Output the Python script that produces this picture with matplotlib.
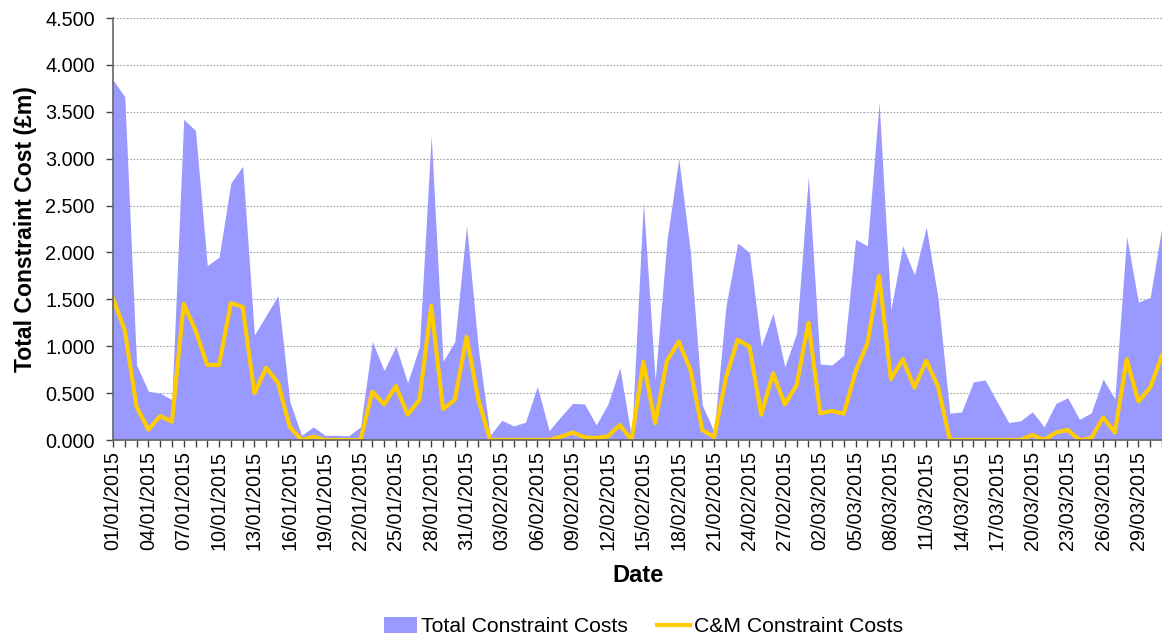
import matplotlib
matplotlib.use("Agg")
import matplotlib.pyplot as plt
from matplotlib.ticker import FormatStrFormatter
import pandas as pd

plt.rcParams["font.family"] = ["Liberation Sans", "DejaVu Sans"]

dates = pd.date_range("2015-01-01", "2015-03-31", freq="D")
date_labels = [d.strftime("%d/%m/%Y") for d in dates]

total_costs = [
    3.84, 3.66, 0.80, 0.52, 0.50, 0.43, 3.42, 3.30, 1.86, 1.95,
    2.74, 2.92, 1.12, 1.33, 1.54, 0.41, 0.05, 0.14, 0.05, 0.05,
    0.045, 0.14, 1.05, 0.74, 1.00, 0.61, 1.00, 3.25, 0.84, 1.05,
    2.29, 0.97, 0.05, 0.21, 0.15, 0.19, 0.57, 0.10, 0.25, 0.39,
    0.385, 0.16, 0.385, 0.77, 0.02, 2.54, 0.64, 2.13, 3.00, 1.99,
    0.37, 0.09, 1.42, 2.10, 2.00, 1.00, 1.35, 0.78, 1.14, 2.81,
    0.81, 0.80, 0.905, 2.14, 2.07, 3.60, 1.39, 2.07, 1.76, 2.27,
    1.51, 0.285, 0.30, 0.62, 0.64, 0.41, 0.185, 0.205, 0.30, 0.14,
    0.39, 0.45, 0.22, 0.29, 0.65, 0.44, 2.17, 1.47, 1.52, 2.28,
]

cm_costs = [
    1.51, 1.17, 0.355, 0.11, 0.256, 0.195, 1.45, 1.17, 0.80, 0.80,
    1.46, 1.42, 0.50, 0.77, 0.61, 0.14, 0.0, 0.035, 0.0, 0.0,
    0.0, 0.0, 0.515, 0.38, 0.575, 0.27, 0.43, 1.43, 0.33, 0.43,
    1.10, 0.43, 0.0, 0.0, 0.0, 0.0, 0.0, 0.0, 0.035, 0.08,
    0.03, 0.02, 0.04, 0.16, 0.0, 0.835, 0.18, 0.845, 1.05, 0.745,
    0.107, 0.03, 0.66, 1.07, 0.995, 0.27, 0.71, 0.38, 0.585, 1.25,
    0.285, 0.31, 0.28, 0.73, 1.03, 1.75, 0.65, 0.86, 0.56, 0.845,
    0.57, 0.0, 0.0, 0.0, 0.0, 0.0, 0.0, 0.0, 0.053, 0.0,
    0.08, 0.107, 0.0, 0.02, 0.24, 0.08, 0.86, 0.41, 0.56, 0.90,
]


def main():
    fig = plt.figure(figsize=(11.62, 6.41), dpi=100)
    ax = fig.add_axes([113 / 1162, 201 / 641, 1 - 113 / 1162, 422 / 641])

    x = list(range(len(dates)))
    ax.fill_between(x, total_costs, 0, color="#9999FF", linewidth=0,
                    label="Total Constraint Costs", zorder=2)
    ax.plot(x, cm_costs, color="#FFCC00", linewidth=3.0,
            label="C&M Constraint Costs", zorder=3)

    ax.set_xlim(0, 88.75)
    ax.set_ylim(0, 4.5)
    ax.set_yticks([i * 0.5 for i in range(10)])
    ax.yaxis.set_major_formatter(FormatStrFormatter("%.3f"))
    ax.yaxis.grid(True, linestyle=(0, (1.5, 1.5)), color="#A0A0A0",
                  linewidth=0.8, zorder=1)

    ax.set_xticks(x)
    ax.set_xticklabels([lbl if i % 3 == 0 else "" for i, lbl in enumerate(date_labels)],
                       rotation=90)

    for side in ("top", "right"):
        ax.spines[side].set_visible(False)
    for side in ("left", "bottom"):
        ax.spines[side].set_color("#666666")
        ax.spines[side].set_linewidth(1.2)
        ax.spines[side].set_zorder(4)

    ax.tick_params(axis="y", direction="out", length=5, width=1, color="#444444",
                   labelsize=14.3, pad=8)
    ax.tick_params(axis="x", direction="out", length=5, width=1, color="#444444",
                   labelsize=14.2, pad=3)

    ax.set_ylabel("Total Constraint Cost (£m)", fontsize=16.6, fontweight="bold",
                  labelpad=6)
    ax.set_xlabel("Date", fontsize=17, fontweight="bold", labelpad=10)

    fig.legend(loc="center", bbox_to_anchor=(0.554, 0.022), ncol=2, frameon=False,
               fontsize=15.2, handlelength=1.55, handleheight=0.75,
               columnspacing=1.4, handletextpad=0.2, borderpad=0.1)

    fig.savefig("out.png", dpi=100)
    plt.close(fig)


if __name__ == "__main__":
    main()
